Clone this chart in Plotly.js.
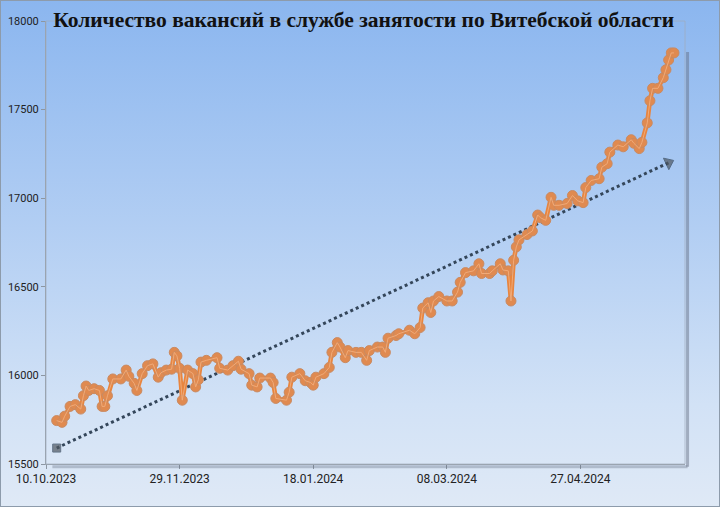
<!DOCTYPE html>
<html>
<head>
<meta charset="utf-8">
<script src="https://cdn.plot.ly/plotly-3.0.1.min.js"></script>
<style>
  html, body { margin: 0; padding: 0; }
  body { width: 720px; height: 507px; overflow: hidden; }
  #wrap { position: relative; width: 718px; height: 505px; border: 1px solid #8D9BAB;
          background: linear-gradient(to bottom, #8BB6EF 0%, #B2CEF3 45%, #D2E2F6 80%, #DFE9F6 100%); }
  #chart { position: absolute; left: -1px; top: -1px; width: 720px; height: 507px; }
</style>
</head>
<body>
<div id="wrap"><div id="chart"></div></div>
<script>
const titleText = "Количество вакансий в службе занятости по Витебской области";

const dates = [
  "2023-10-14","2023-10-16","2023-10-17","2023-10-19","2023-10-21","2023-10-23","2023-10-24","2023-10-25","2023-10-26","2023-10-28",
  "2023-10-30","2023-10-31","2023-11-01","2023-11-02","2023-11-04","2023-11-07","2023-11-09","2023-11-10","2023-11-12","2023-11-13",
  "2023-11-15","2023-11-17","2023-11-19","2023-11-21","2023-11-22","2023-11-24","2023-11-26","2023-11-27","2023-11-28","2023-11-29",
  "2023-11-30","2023-12-02","2023-12-04","2023-12-05","2023-12-06","2023-12-07","2023-12-09","2023-12-13","2023-12-14","2023-12-17",
  "2023-12-19","2023-12-21","2023-12-22","2023-12-25","2023-12-26","2023-12-28","2023-12-29","2024-01-02","2024-01-03","2024-01-04",
  "2024-01-08","2024-01-09","2024-01-10","2024-01-13","2024-01-15","2024-01-17","2024-01-18","2024-01-19","2024-01-22","2024-01-24",
  "2024-01-25","2024-01-27","2024-01-28","2024-01-30","2024-01-31","2024-02-03","2024-02-05","2024-02-07","2024-02-08","2024-02-11",
  "2024-02-13","2024-02-14","2024-02-15","2024-02-18","2024-02-19","2024-02-23","2024-02-25","2024-02-27","2024-02-28","2024-03-01",
  "2024-03-02","2024-03-03","2024-03-05","2024-03-08","2024-03-10","2024-03-12","2024-03-13","2024-03-15","2024-03-18","2024-03-20",
  "2024-03-21","2024-03-24","2024-03-25","2024-03-28","2024-03-29","2024-03-31","2024-04-01","2024-04-02","2024-04-03","2024-04-04",
  "2024-04-07","2024-04-09","2024-04-11","2024-04-12","2024-04-14","2024-04-16","2024-04-17","2024-04-19","2024-04-22","2024-04-24",
  "2024-04-26","2024-04-28","2024-04-29","2024-05-01","2024-05-04","2024-05-05","2024-05-07","2024-05-08","2024-05-11","2024-05-13",
  "2024-05-16","2024-05-17","2024-05-19","2024-05-20","2024-05-22","2024-05-23","2024-05-24","2024-05-26","2024-05-28","2024-05-29",
  "2024-05-30","2024-05-31","2024-06-01"
];

const vacancies = [
  15745,15735,15770,15825,15835,15810,15885,15940,15915,15925,
  15915,15825,15825,15885,15980,15980,16030,15995,15955,15915,
  16010,16055,16065,15990,16015,16030,16035,16130,16110,16040,
  15860,16030,16010,15935,15975,16075,16085,16100,16040,16030,
  16055,16080,16035,16010,15945,15935,15985,15985,15960,15870,
  15860,15905,15990,16010,15970,15960,15945,15990,16010,16045,
  16130,16185,16160,16100,16140,16130,16130,16085,16140,16160,
  16160,16130,16210,16225,16235,16255,16235,16270,16380,16410,
  16355,16420,16445,16420,16420,16470,16525,16580,16590,16630,
  16575,16575,16590,16630,16595,16590,16420,16650,16725,16765,
  16795,16815,16905,16890,16875,17005,16960,16960,16970,17015,
  16985,16975,17060,17100,17110,17175,17195,17260,17300,17290,
  17330,17310,17280,17315,17425,17550,17620,17620,17680,17725,
  17780,17820,17820
];

// trend line end points
const trendDates = ["2023-10-14", "2024-05-30"];
const trendValues = [15590, 17200];

const xTickStart = "2023-10-10";
const xRange = ["2023-10-10", "2024-06-05 03:00"];
const yRange = [15500, 18000];

const traces = [
  { x: trendDates, y: trendValues, type: "scatter", mode: "lines+markers",
    line: { color: "#34465A", width: 3, dash: "dot" },
    marker: { symbol: ["square", "triangle-right"], size: [8, 11], color: "#505860", angle: [0, -25] },
    hoverinfo: "skip" },
  { x: dates, y: vacancies, type: "scatter", mode: "lines+markers",
    line: { color: "#E8853F", width: 4.5 },
    marker: { size: 10, color: "#E08A50", line: { color: "#C98A62", width: 1 } } },
  { x: dates, y: vacancies, type: "scatter", mode: "lines",
    line: { color: "#F0AA78", width: 1 }, hoverinfo: "skip" }
];

const layout = {
  width: 720, height: 507,
  paper_bgcolor: "rgba(0,0,0,0)", plot_bgcolor: "rgba(0,0,0,0)",
  margin: { l: 46, r: 35, t: 21, b: 43, pad: 0 },
  showlegend: false,
  title: { text: "<b>" + titleText + "</b>", x: 0.505, xanchor: "center", xref: "container",
           y: 0.962, yanchor: "middle", yref: "container",
           font: { family: "Liberation Serif, DejaVu Serif, serif", size: 21.5, color: "#111111" } },
  xaxis: { type: "date", range: xRange, tick0: xTickStart, dtick: 50*86400000,
           tickformat: "%d.%m.%Y", ticks: "outside", ticklen: 4, tickcolor: "#8C96A2",
           showline: true, linecolor: "#9AA4B0", linewidth: 1, showgrid: false, zeroline: false,
           tickfont: { family: "Roboto, Liberation Sans, sans-serif", size: 12, color: "#222" } },
  yaxis: { range: yRange, dtick: 500, tickformat: "d", ticks: "outside", ticklen: 4, tickcolor: "#8C96A2",
           showline: true, linecolor: "#9AA4B0", linewidth: 1, showgrid: false, zeroline: false,
           tickfont: { family: "Roboto, Liberation Sans, sans-serif", size: 11, color: "#222" } },
  shapes: [
    { type: "rect", xref: "paper", yref: "paper", x0: 0, x1: 1, y0: 0, y1: 1,
      line: { color: "rgba(160,172,188,0.7)", width: 1 }, layer: "below" },
    { type: "line", xref: "paper", yref: "paper", x0: 1.004, x1: 1.004, y0: -0.006, y1: 0.93,
      line: { color: "rgba(95,105,125,0.45)", width: 3 } },
    { type: "line", xref: "paper", yref: "paper", x0: 0.01, x1: 1.004, y0: -0.006, y1: -0.006,
      line: { color: "rgba(95,105,125,0.35)", width: 3 } }
  ]
};

Plotly.newPlot("chart", traces, layout, { displayModeBar: false, staticPlot: true });
</script>
</body>
</html>
